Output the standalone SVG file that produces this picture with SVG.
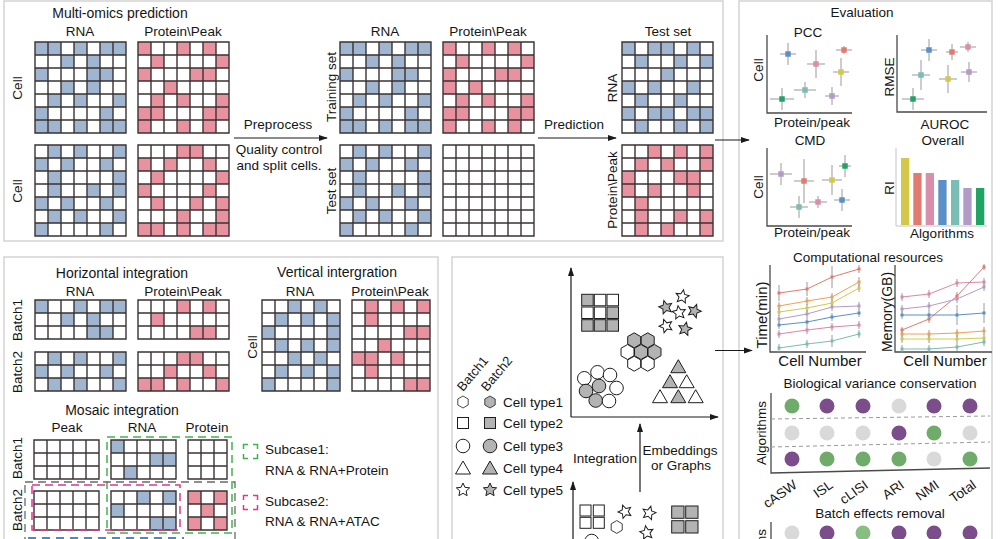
<svg xmlns="http://www.w3.org/2000/svg" width="1000" height="539" viewBox="0 0 1000 539">
<defs>
<style>
text{font-family:"Liberation Sans",Arial,Helvetica,sans-serif;fill:#151515;font-size:13.5px}
.t{font-size:14px}
.c{text-anchor:middle}
.e{text-anchor:end}
.panel{fill:none;stroke:#d3d3d3;stroke-width:1.5}
.bl{fill:#9fb5d0}
.pk{fill:#e8929f}
.ax{fill:none;stroke:#4a4a4a;stroke-width:1.3}
.lax{fill:none;stroke:#c4c4c4;stroke-width:1}
.eb{fill:none;stroke:#9a9a9a;stroke-width:1}
.sh{fill:#fff;stroke:#1e1e1e;stroke-width:1}
.g{fill:#b3b3b3}
.arr{fill:none;stroke:#1a1a1a;stroke-width:1.2}
.dot{fill:none;stroke-linecap:square}
.ln{fill:none;stroke-width:1}
.gr{fill:#6fac6a}.pu{fill:#7b4e8b}.gy{fill:#d9d9d9}
</style>
<marker id="ah" viewBox="0 0 10 10" refX="9" refY="5" markerWidth="9" markerHeight="9" orient="auto" markerUnits="userSpaceOnUse"><path d="M0 1.6L10 5L0 8.4z" fill="#1a1a1a"/></marker>
<path id="g77" fill="none" stroke="#3a3232" stroke-width="1.4" d="M0 0H91V91H0Z M13 0V91M26 0V91M39 0V91M52 0V91M65 0V91M78 0V91M0 13H91M0 26H91M0 39H91M0 52H91M0 65H91M0 78H91"/>
<path id="g73" fill="none" stroke="#3a3232" stroke-width="1.4" d="M0 0H91V39H0Z M13 0V39M26 0V39M39 0V39M52 0V39M65 0V39M78 0V39M0 13H91M0 26H91"/>
<path id="g67" fill="none" stroke="#3a3232" stroke-width="1.4" d="M0 0H78V91H0Z M13 0V91M26 0V91M39 0V91M52 0V91M65 0V91M0 13H78M0 26H78M0 39H78M0 52H78M0 65H78M0 78H78"/>
<path id="g53" fill="none" stroke="#3a3232" stroke-width="1.4" d="M0 0H65V39H0Z M13 0V39M26 0V39M39 0V39M52 0V39M0 13H65M0 26H65"/>
<path id="g33" fill="none" stroke="#3a3232" stroke-width="1.4" d="M0 0H39V39H0Z M13 0V39M26 0V39M0 13H39M0 26H39"/>
<path id="pT1R" class="bl" d="M0 0h26v13h-26zM39 0h13v13h-13zM65 0h26v13h-26zM26 13h13v13h-13zM52 13h13v13h-13zM0 26h13v13h-13zM52 26h26v13h-26zM26 39h13v13h-13zM52 39h13v13h-13zM13 52h13v13h-13zM39 52h13v13h-13zM78 52h13v13h-13zM0 65h13v13h-13zM65 65h13v13h-13zM0 78h26v13h-26zM39 78h13v13h-13zM65 78h26v13h-26z"/>
<path id="pT1P" class="pk" d="M0 0h13v13h-13zM39 0h13v13h-13zM65 0h13v13h-13zM13 13h13v13h-13zM78 13h13v13h-13zM0 26h13v13h-13zM52 26h26v13h-26zM26 39h13v13h-13zM13 52h13v13h-13zM39 52h13v13h-13zM78 52h13v13h-13zM0 65h26v13h-26zM65 65h26v13h-26zM0 78h13v13h-13zM39 78h13v13h-13zM65 78h13v13h-13z"/>
<path id="pT2R" class="bl" d="M13 0h13v13h-13zM39 0h13v13h-13zM78 0h13v13h-13zM0 13h13v13h-13zM26 13h13v13h-13zM65 13h13v13h-13zM13 26h13v13h-13zM78 26h13v13h-13zM13 39h13v13h-13zM52 39h13v13h-13zM78 39h13v13h-13zM0 52h13v13h-13zM26 52h13v13h-13zM65 52h13v13h-13zM13 65h13v13h-13zM39 65h13v13h-13zM78 65h13v13h-13zM0 78h13v13h-13zM65 78h13v13h-13z"/>
<polygon id="hex" points="0,-7.5 6.5,-3.75 6.5,3.75 0,7.5 -6.5,3.75 -6.5,-3.75"/>
<polygon id="star" points="0,-7 1.94,-2.67 6.66,-2.16 3.14,1.02 4.11,5.66 0,3.3 -4.11,5.66 -3.14,1.02 -6.66,-2.16 -1.94,-2.67"/>
<polygon id="tri" points="0,-7 7.5,6 -7.5,6"/>
<circle id="cir" r="6.8"/>
<rect id="sq" x="-5.5" y="-5.5" width="11" height="11"/>
</defs>
<rect width="1000" height="539" fill="#fff"/>

<g id="panels">
<rect class="panel" x="4" y="1" width="719" height="240"/>
<rect class="panel" x="4" y="257" width="434" height="290"/>
<rect class="panel" x="452" y="257" width="271" height="290"/>
<rect class="panel" x="739" y="1" width="253" height="546"/>
</g>

<g id="multiomics">
<text class="t c" x="120" y="18">Multi-omics prediction</text>
<text class="c" x="80" y="36">RNA</text>
<text class="c" x="183" y="36">Protein\Peak</text>
<text class="c" transform="translate(22,88) rotate(-90)">Cell</text>
<text class="c" transform="translate(22,191) rotate(-90)">Cell</text>
<g id="mo-rna1" transform="translate(35,42)"><use href="#pT1R"/><use href="#g77"/></g>
<g id="mo-prot1" transform="translate(138,42)"><use href="#pT1P"/><use href="#g77"/></g>
<g id="mo-rna2" transform="translate(35,145)"><use href="#pT2R"/><use href="#g77"/></g>
<g id="mo-prot2" transform="translate(138,145)"><path class="pk" d="M39 0h26v13h-26zM0 13h13v13h-13zM26 13h13v13h-13zM65 13h13v13h-13zM13 26h13v13h-13zM78 26h13v13h-13zM0 39h13v13h-13zM65 39h13v13h-13zM13 52h13v13h-13zM52 52h13v13h-13zM78 52h13v13h-13zM39 65h13v13h-13zM78 65h13v13h-13zM0 78h26v13h-26zM39 78h13v13h-13zM65 78h26v13h-26z"/><use href="#g77"/></g>
</g>

<g id="split">
<text class="c" x="385" y="36">RNA</text>
<text class="c" x="488" y="36">Protein\Peak</text>
<text class="c" transform="translate(336,87) rotate(-90)">Training set</text>
<text class="c" transform="translate(336,191) rotate(-90)">Test set</text>
<text class="c" x="278" y="129">Preprocess</text>
<text class="c" x="279" y="154">Quality control</text>
<text class="c" x="279" y="170">and split cells.</text>
<text class="c" x="574" y="129">Prediction</text>
<g id="train-rna" transform="translate(340,42)"><use href="#pT1R"/><use href="#g77"/></g>
<g id="train-prot" transform="translate(443,42)"><path class="pk" d="M0 0h13v13h-13zM39 0h13v13h-13zM65 0h13v13h-13zM13 13h13v13h-13zM78 13h13v13h-13zM0 26h13v13h-13zM52 26h26v13h-26zM0 39h13v13h-13zM26 39h13v13h-13zM13 52h13v13h-13zM39 52h13v13h-13zM78 52h13v13h-13zM0 65h26v13h-26zM65 65h26v13h-26zM0 78h13v13h-13zM39 78h13v13h-13zM65 78h13v13h-13z"/><use href="#g77"/></g>
<g id="test-rna" transform="translate(340,145)"><use href="#pT2R"/><use href="#g77"/></g>
<g id="test-prot" transform="translate(443,145)"><use href="#g77"/></g>
</g>

<g id="testset">
<text class="c" x="668" y="36">Test set</text>
<text class="c" transform="translate(617,88) rotate(-90)">RNA</text>
<text class="c" transform="translate(617,190) rotate(-90)">Protein\Peak</text>
<g id="pred-rna" transform="translate(622,42)"><path class="bl" d="M0 0h13v13h-13zM26 0h26v13h-26zM65 0h13v13h-13zM13 13h13v13h-13zM52 13h13v13h-13zM78 13h13v13h-13zM39 26h13v13h-13zM0 39h13v13h-13zM26 39h13v13h-13zM65 39h13v13h-13zM13 52h13v13h-13zM52 52h13v13h-13zM0 65h13v13h-13zM26 65h26v13h-26zM65 65h26v13h-26zM13 78h13v13h-13zM52 78h13v13h-13zM78 78h13v13h-13z"/><use href="#g77"/></g>
<g id="pred-prot" transform="translate(622,145)"><path class="pk" d="M26 0h13v13h-13zM52 0h13v13h-13zM78 0h13v13h-13zM13 13h13v13h-13zM39 13h13v13h-13zM78 13h13v13h-13zM0 26h13v13h-13zM52 26h26v13h-26zM0 39h13v13h-13zM26 39h13v13h-13zM65 39h13v13h-13zM13 52h13v13h-13zM13 65h13v13h-13zM52 65h13v13h-13zM78 65h13v13h-13zM13 78h13v13h-13zM39 78h13v13h-13zM78 78h13v13h-13z"/><use href="#g77"/></g>
</g>

<g id="horizontal">
<text class="t c" x="122" y="278">Horizontal integration</text>
<text class="c" x="80" y="296">RNA</text>
<text class="c" x="183" y="296">Protein\Peak</text>
<text class="c" transform="translate(22,320) rotate(-90)">Batch1</text>
<text class="c" transform="translate(22,372) rotate(-90)">Batch2</text>
<g transform="translate(35,300)"><path class="bl" d="M0 0h13v13h-13zM39 0h13v13h-13zM65 0h26v13h-26zM26 13h13v13h-13zM52 13h13v13h-13zM52 26h26v13h-26z"/><use href="#g73"/></g>
<g transform="translate(138,300)"><path class="pk" d="M39 0h13v13h-13zM65 0h13v13h-13zM13 13h13v13h-13zM52 26h26v13h-26z"/><use href="#g73"/></g>
<g transform="translate(35,352)"><path class="bl" d="M13 0h13v13h-13zM39 0h13v13h-13zM78 0h13v13h-13zM0 13h13v13h-13zM26 13h13v13h-13zM65 13h13v13h-13zM13 26h13v13h-13zM39 26h13v13h-13zM78 26h13v13h-13z"/><use href="#g73"/></g>
<g transform="translate(138,352)"><path class="pk" d="M39 0h26v13h-26zM26 13h13v13h-13zM65 13h13v13h-13zM0 26h26v13h-26zM39 26h13v13h-13zM78 26h13v13h-13z"/><use href="#g73"/></g>
</g>

<g id="vertical">
<text class="t c" x="337" y="277">Vertical intergration</text>
<text class="c" x="300" y="296">RNA</text>
<text class="c" x="390" y="296">Protein\Peak</text>
<text class="c" transform="translate(257,347) rotate(-90)">Cell</text>
<g transform="translate(262,300)"><path class="bl" d="M26 0h13v13h-13zM52 0h13v13h-13zM13 13h13v13h-13zM39 13h13v13h-13zM65 13h13v13h-13zM0 26h13v13h-13zM65 26h13v13h-13zM13 39h13v13h-13zM39 39h13v13h-13zM65 39h13v13h-13zM26 52h13v13h-13zM52 52h13v13h-13zM13 65h13v13h-13zM39 65h13v13h-13zM65 65h13v13h-13zM0 78h13v13h-13zM65 78h13v13h-13z"/><use href="#g67"/></g>
<g transform="translate(352,300)"><path class="pk" d="M13 0h13v13h-13zM39 0h13v13h-13zM65 0h13v13h-13zM13 13h13v13h-13zM52 26h26v13h-26zM26 39h13v13h-13zM0 52h26v13h-26zM39 52h13v13h-13zM13 65h13v13h-13zM52 78h26v13h-26z"/><use href="#g67"/></g>
</g>

<g id="mosaic">
<text class="t c" x="122" y="415">Mosaic integration</text>
<text class="c" x="67" y="432">Peak</text>
<text class="c" x="142" y="432">RNA</text>
<text class="c" x="207" y="432">Protein</text>
<text class="c" transform="translate(22,458) rotate(-90)">Batch1</text>
<text class="c" transform="translate(22,510) rotate(-90)">Batch2</text>
<g transform="translate(34,440)"><use href="#g53"/></g>
<g transform="translate(111,440)"><path class="bl" d="M0 0h13v13h-13zM39 13h26v13h-26zM13 26h13v13h-13z"/><use href="#g53"/></g>
<g transform="translate(188,440)"><use href="#g33"/></g>
<g transform="translate(34,491)"><use href="#g53"/></g>
<g transform="translate(111,491)"><path class="bl" d="M26 0h13v13h-13zM52 0h13v13h-13zM0 13h13v13h-13zM39 26h26v13h-26z"/><use href="#g53"/></g>
<g transform="translate(188,491)"><path class="pk" d="M0 0h13v13h-13zM26 0h13v13h-13zM13 13h13v13h-13zM0 26h13v13h-13zM26 26h13v13h-13z"/><use href="#g33"/></g>
<rect x="107" y="437" width="125" height="96" fill="none" stroke="#3db54a" stroke-width="1.5" stroke-dasharray="8 5"/>
<rect x="25" y="482" width="210" height="62" fill="none" stroke="#6a6a6a" stroke-width="1.3" stroke-dasharray="8 5"/>
<rect x="32" y="485" width="148" height="45" fill="none" stroke="#e4348c" stroke-width="1.5" stroke-dasharray="8 5"/>
<rect x="28" y="538" width="155" height="40" fill="none" stroke="#3a8fd6" stroke-width="2" stroke-dasharray="8 6"/>
<rect x="243.5" y="444.5" width="14" height="14" fill="none" stroke="#3db54a" stroke-width="1.5" stroke-dasharray="9 5" stroke-dashoffset="4.5"/>
<rect x="243.5" y="495.5" width="14" height="14" fill="none" stroke="#e4348c" stroke-width="1.5" stroke-dasharray="9 5" stroke-dashoffset="4.5"/>
<text x="265" y="454">Subcase1:</text>
<text x="265" y="475">RNA &amp; RNA+Protein</text>
<text x="265" y="506">Subcase2:</text>
<text x="265" y="526">RNA &amp; RNA+ATAC</text>
</g>

<g id="embedding">
<text transform="translate(463,392) rotate(-50)" style="font-size:13px">Batch1</text>
<text transform="translate(487,392) rotate(-50)" style="font-size:13px">Batch2</text>
<use href="#hex" class="sh" transform="translate(463,402) scale(0.8)"/><use href="#hex" class="sh g" transform="translate(490,402) scale(0.8)"/>
<use href="#sq" class="sh" transform="translate(463,423)"/><use href="#sq" class="sh g" transform="translate(490,423)"/>
<use href="#cir" class="sh" transform="translate(463,446)"/><use href="#cir" class="sh g" transform="translate(490,446)"/>
<use href="#tri" class="sh" transform="translate(463,468)"/><use href="#tri" class="sh g" transform="translate(490,468)"/>
<use href="#star" class="sh" transform="translate(463,490)"/><use href="#star" class="sh g" transform="translate(490,490)"/>
<text x="503" y="407">Cell type1</text>
<text x="503" y="428">Cell type2</text>
<text x="503" y="450.5">Cell type3</text>
<text x="503" y="472.5">Cell type4</text>
<text x="503" y="494.5">Cell type5</text>
<text class="c" x="605" y="463">Integration</text>
<text class="c" x="680" y="455">Embeddings</text>
<text class="c" x="681" y="470">or Graphs</text>
<g id="cluster-squares">
<rect class="sh g" x="581.7" y="294.3" width="11.5" height="11.5"/><rect class="sh" x="594.3" y="294.3" width="11.5" height="11.5"/><rect class="sh" x="607" y="294.3" width="11.5" height="11.5"/>
<rect class="sh" x="581.7" y="307" width="11.5" height="11.5"/><rect class="sh" x="594.3" y="307" width="11.5" height="11.5"/><rect class="sh g" x="607" y="307" width="11.5" height="11.5"/>
<rect class="sh g" x="581.7" y="319.7" width="11.5" height="11.5"/><rect class="sh g" x="594.3" y="319.7" width="11.5" height="11.5"/><rect class="sh g" x="607" y="319.7" width="11.5" height="11.5"/>
</g>
<g id="cluster-stars">
<use href="#star" class="sh g" transform="translate(665.7,307.3) rotate(-15)"/>
<use href="#star" class="sh" transform="translate(682.3,296.7) rotate(10)"/>
<use href="#star" class="sh" transform="translate(679,312.7) rotate(-8)"/>
<use href="#star" class="sh g" transform="translate(694.3,311) rotate(20)"/>
<use href="#star" class="sh" transform="translate(666,326) rotate(-20)"/>
<use href="#star" class="sh g" transform="translate(685,329) rotate(12)"/>
</g>
<g id="cluster-hex">
<use href="#hex" class="sh g" transform="translate(634.2,340.3)"/><use href="#hex" class="sh g" transform="translate(647.7,340.3)"/>
<use href="#hex" class="sh" transform="translate(627.5,352)"/><use href="#hex" class="sh g" transform="translate(641,352)"/><use href="#hex" class="sh g" transform="translate(654.5,352)"/>
<use href="#hex" class="sh" transform="translate(634.2,363.7)"/><use href="#hex" class="sh" transform="translate(647.7,363.7)"/>
</g>
<g id="cluster-circles">
<use href="#cir" class="sh" transform="translate(584.3,378.3)"/>
<use href="#cir" class="sh" transform="translate(597.5,372.3)"/>
<use href="#cir" class="sh" transform="translate(610,375)"/>
<use href="#cir" class="sh" transform="translate(616.5,388)"/>
<use href="#cir" class="sh g" transform="translate(599,386)"/>
<use href="#cir" class="sh g" transform="translate(586,391)"/>
<use href="#cir" class="sh g" transform="translate(595.7,400.5)"/>
<use href="#cir" class="sh" transform="translate(609,401)"/>
</g>
<g id="cluster-tri">
<use href="#tri" class="sh g" transform="translate(678.3,366.7)"/>
<use href="#tri" class="sh g" transform="translate(670,381.7)"/><use href="#tri" class="sh" transform="translate(686.7,381.7)"/>
<use href="#tri" class="sh" transform="translate(660,396.7)"/><use href="#tri" class="sh g" transform="translate(678.3,396.7)"/><use href="#tri" class="sh" transform="translate(695.7,396.7)"/>
</g>
<g id="raw-cells">
<rect class="sh" x="580" y="505" width="11" height="11"/><rect class="sh" x="593.3" y="505" width="11" height="11"/>
<rect class="sh" x="580" y="517.3" width="11" height="11"/><rect class="sh" x="593.3" y="517.3" width="11" height="11"/>
<rect class="sh g" x="671.7" y="506" width="12.3" height="12.3"/><rect class="sh g" x="685.7" y="506" width="12.3" height="12.3"/>
<rect class="sh g" x="671.7" y="520.7" width="12.3" height="12.3"/><rect class="sh g" x="685.7" y="520.7" width="12.3" height="12.3"/>
<use href="#star" class="sh" transform="translate(625,511.7) rotate(-20)"/>
<use href="#star" class="sh" transform="translate(649,513) rotate(15)"/>
<use href="#star" class="sh" transform="translate(646.7,532.7) rotate(-10)"/>
<use href="#hex" class="sh" transform="translate(616.7,527) scale(0.85)"/>
<use href="#cir" class="sh" transform="translate(591.7,541)"/>
</g>
</g>

<g id="evaluation">
<text class="c" x="862" y="17">Evaluation</text>
<g id="pcc">
<text class="c" x="808" y="37">PCC</text>
<text class="c" transform="translate(763,70) rotate(-90)">Cell</text>
<text class="c" x="812" y="127">Protein/peak</text>
<path class="ax" d="M767 35V113H852"/>
<path class="eb" d="M780 54H796M788 43V65M836 50H852M844 46V54M807 64H825M816 50V78M833 72H849M841 58V86M794 90H816M805 82V98M825 96H839M832 87V105M770 99H794M782 88V110"/>
<path class="dot" stroke-width="5.5" stroke="#5b8fc7" d="M788 54h0"/>
<path class="dot" stroke-width="5.5" stroke="#e07b72" d="M844 50h0"/>
<path class="dot" stroke-width="5.5" stroke="#d98fab" d="M816 64h0"/>
<path class="dot" stroke-width="5.5" stroke="#d4c84a" d="M841 72h0"/>
<path class="dot" stroke-width="5.5" stroke="#79bdb4" d="M805 90h0"/>
<path class="dot" stroke-width="5.5" stroke="#b39bc8" d="M832 96h0"/>
<path class="dot" stroke-width="5.5" stroke="#21a366" d="M782 99h0"/>
</g>
<g id="rmse">
<text class="c" transform="translate(894,77) rotate(-90)">RMSE</text>
<text class="c" x="945" y="129">AUROC</text>
<path class="ax" d="M897 35V112H987"/>
<path class="eb" d="M921 50H937M929 39V61M946 52H958M952 44V60M960 47H976M968 42V52M912 75H930M921 60V90M961 72H977M969 62V82M939 79H957M948 65V93M902 99H924M913 88V110"/>
<path class="dot" stroke-width="5.5" stroke="#5b8fc7" d="M929 50h0"/>
<path class="dot" stroke-width="5.5" stroke="#e07b72" d="M952 52h0"/>
<path class="dot" stroke-width="5.5" stroke="#d98fab" d="M968 47h0"/>
<path class="dot" stroke-width="5.5" stroke="#79bdb4" d="M921 75h0"/>
<path class="dot" stroke-width="5.5" stroke="#b39bc8" d="M969 72h0"/>
<path class="dot" stroke-width="5.5" stroke="#d4c84a" d="M948 79h0"/>
<path class="dot" stroke-width="5.5" stroke="#21a366" d="M913 99h0"/>
</g>
<g id="cmd">
<text class="c" x="810" y="145">CMD</text>
<text class="c" transform="translate(763,187) rotate(-90)">Cell</text>
<text class="c" x="812" y="237">Protein/peak</text>
<path class="ax" d="M767 148V226H852"/>
<path class="eb" d="M770 174H792M781 163V185M794 181H814M804 159V203M822 180H842M832 165V195M839 166H851M845 155V177M790 207H808M799 196V218M809 202H827M818 196V208M834 200H850M842 189V211"/>
<path class="dot" stroke-width="5.5" stroke="#b39bc8" d="M781 174h0"/>
<path class="dot" stroke-width="5.5" stroke="#e07b72" d="M804 181h0"/>
<path class="dot" stroke-width="5.5" stroke="#d4c84a" d="M832 180h0"/>
<path class="dot" stroke-width="5.5" stroke="#21a366" d="M845 166h0"/>
<path class="dot" stroke-width="5.5" stroke="#79bdb4" d="M799 207h0"/>
<path class="dot" stroke-width="5.5" stroke="#d98fab" d="M818 202h0"/>
<path class="dot" stroke-width="5.5" stroke="#5b8fc7" d="M842 200h0"/>
</g>
<g id="overall">
<text class="c" x="943" y="145">Overall</text>
<text class="c" transform="translate(894,188) rotate(-90)">RI</text>
<text class="c" x="942" y="238">Algorithms</text>
<path class="lax" d="M896 148V226H987"/>
<rect x="901" y="158" width="8.3" height="67" fill="#d4c84a"/>
<rect x="913.3" y="173" width="8.3" height="52" fill="#e07b72"/>
<rect x="925.7" y="173" width="8.3" height="52" fill="#d98fab"/>
<rect x="938.3" y="180" width="8.3" height="45" fill="#5b8fc7"/>
<rect x="951" y="180" width="8.3" height="45" fill="#79bdb4"/>
<rect x="963.3" y="188" width="8.3" height="37" fill="#b39bc8"/>
<rect x="976" y="188" width="8.3" height="37" fill="#21a366"/>
</g>
</g>

<g id="resources">
<text class="c" x="868" y="262">Computational resources</text>
<text class="c" transform="translate(767,315) rotate(-90)" style="font-size:15px">Time(min)</text>
<text class="c" x="820" y="366" style="font-size:15px">Cell Number</text>
<text class="c" transform="translate(892,312) rotate(-90)" style="font-size:14px">Memory(GB)</text>
<text class="c" x="945" y="366" style="font-size:15px">Cell Number</text>
<path class="ax" d="M770 265V352H866M895 265V352H992"/>
<path class="eb" d="M779 285v16M807 282v14M832 266v22M859 265v8M779 302v8M807 297v8M832 293v8M859 277v10M779 308v8M807 304v8M832 299v8M859 284v8M779 315v8M807 310v8M832 303v8M859 302v8M779 321v8M807 318v8M832 313v8M859 309v8M779 330v8M807 326v8M832 323v8M859 321v8M779 344v8M807 340v8M832 335v12M859 330v8"/>
<path class="eb" d="M902 327v6M929 315v8M957 292v8M984 264v6M902 293v8M929 290v8M957 279v8M984 278v8M902 305v8M929 302v8M957 295v8M984 283v8M902 311v8M929 310v10M957 305v20M984 303v20M902 330v8M929 330v8M957 329v8M984 327v8M902 335v8M929 335v8M957 335v8M984 334v8M902 345v8M929 345v8M957 343v8M984 338v8"/>
<polyline class="ln" stroke="#e07b72" points="779,293 807,289 832,277 859,269"/>
<polyline class="ln" stroke="#f0a050" points="779,306 807,301 832,297 859,282"/>
<polyline class="ln" stroke="#d4c84a" points="779,312 807,308 832,303 859,288"/>
<polyline class="ln" stroke="#b39bc8" points="779,319 807,314 832,307 859,306"/>
<polyline class="ln" stroke="#5b8fc7" points="779,325 807,322 832,317 859,313"/>
<polyline class="ln" stroke="#de86a5" points="779,334 807,330 832,327 859,325"/>
<polyline class="ln" stroke="#79bdb4" points="779,348 807,344 832,341 859,334"/>
<path class="dot" stroke-width="3" stroke="#e07b72" d="M779 293h0M807 289h0M832 277h0M859 269h0M902 330h0M929 319h0M957 296h0M984 267h0"/>
<path class="dot" stroke-width="3" stroke="#f0a050" d="M779 306h0M807 301h0M832 297h0M859 282h0M902 334h0M929 334h0M957 333h0M984 331h0"/>
<path class="dot" stroke-width="3" stroke="#d4c84a" d="M779 312h0M807 308h0M832 303h0M859 288h0M902 339h0M929 339h0M957 339h0M984 338h0"/>
<path class="dot" stroke-width="3" stroke="#b39bc8" d="M779 319h0M807 314h0M832 307h0M859 306h0M902 309h0M929 306h0M957 299h0M984 287h0"/>
<path class="dot" stroke-width="3" stroke="#5b8fc7" d="M779 325h0M807 322h0M832 317h0M859 313h0M902 315h0M929 315h0M957 315h0M984 313h0"/>
<path class="dot" stroke-width="3" stroke="#de86a5" d="M779 334h0M807 330h0M832 327h0M859 325h0M902 297h0M929 294h0M957 283h0M984 282h0"/>
<path class="dot" stroke-width="3" stroke="#79bdb4" d="M779 348h0M807 344h0M832 341h0M859 334h0M902 349h0M929 349h0M957 347h0M984 342h0"/>
<polyline class="ln" stroke="#e07b72" points="902,330 929,319 957,296 984,267"/>
<polyline class="ln" stroke="#de86a5" points="902,297 929,294 957,283 984,282"/>
<polyline class="ln" stroke="#b39bc8" points="902,309 929,306 957,299 984,287"/>
<polyline class="ln" stroke="#5b8fc7" points="902,315 929,315 957,315 984,313"/>
<polyline class="ln" stroke="#f0a050" points="902,334 929,334 957,333 984,331"/>
<polyline class="ln" stroke="#d4c84a" points="902,339 929,339 957,339 984,338"/>
<polyline class="ln" stroke="#79bdb4" points="902,349 929,349 957,347 984,342"/>
</g>

<g id="bio-variance">
<text class="c" x="880" y="388">Biological variance conservation</text>
<text class="c" transform="translate(766,433) rotate(-90)">Algorithms</text>
<path class="ax" d="M771 393V473L990 468"/>
<path d="M771 419L990 416M771 447L990 442" fill="none" stroke="#9a9a9a" stroke-width="1" stroke-dasharray="4 3"/>
<circle class="gr" cx="792" cy="406" r="7.5"/><circle class="pu" cx="827" cy="406" r="7.5"/><circle class="pu" cx="863" cy="406" r="7.5"/><circle class="gy" cx="899" cy="406" r="7.5"/><circle class="pu" cx="934" cy="406" r="7.5"/><circle class="pu" cx="970" cy="406" r="7.5"/>
<circle class="gy" cx="792" cy="433" r="7.5"/><circle class="gy" cx="827" cy="433" r="7.5"/><circle class="gy" cx="863" cy="433" r="7.5"/><circle class="pu" cx="899" cy="433" r="7.5"/><circle class="gr" cx="934" cy="433" r="7.5"/><circle class="gy" cx="970" cy="433" r="7.5"/>
<circle class="pu" cx="792" cy="459" r="7.5"/><circle class="gr" cx="827" cy="459" r="7.5"/><circle class="gr" cx="863" cy="459" r="7.5"/><circle class="gr" cx="899" cy="459" r="7.5"/><circle class="gy" cx="934" cy="459" r="7.5"/><circle class="gr" cx="970" cy="459" r="7.5"/>
<text class="e" transform="translate(798,487) rotate(-35)">cASW</text>
<text class="e" transform="translate(834,487) rotate(-35)">ISL</text>
<text class="e" transform="translate(869,487) rotate(-35)">cLISI</text>
<text class="e" transform="translate(905,487) rotate(-35)">ARI</text>
<text class="e" transform="translate(940,487) rotate(-35)">NMI</text>
<text class="e" transform="translate(977,487) rotate(-35)">Total</text>
</g>

<g id="batch-removal">
<text class="c" x="880" y="518">Batch effects removal</text>
<text class="e" transform="translate(766,529) rotate(-90)">Algorithms</text>
<path class="ax" d="M771 522V545"/>
<circle class="gy" cx="792" cy="533" r="7.5"/><circle class="pu" cx="827" cy="533" r="7.5"/><circle fill="#86bf80" cx="863" cy="533" r="7.5"/><circle class="pu" cx="899" cy="533" r="7.5"/><circle class="pu" cx="934" cy="533" r="7.5"/><circle class="pu" cx="970" cy="533" r="7.5"/>
</g>

<g id="connectors">
<path class="arr" marker-end="url(#ah)" d="M234 138H327"/>
<path class="arr" marker-end="url(#ah)" d="M538 138H616"/>
<path class="arr" marker-end="url(#ah)" d="M715 140H749"/>
<path class="arr" marker-end="url(#ah)" d="M715 350.5H752"/>
<path class="arr" marker-end="url(#ah)" d="M571 417V268"/>
<path class="arr" marker-end="url(#ah)" d="M571 417H718"/>
<path class="arr" marker-end="url(#ah)" d="M573 545V482"/>
<path class="arr" marker-end="url(#ah)" d="M640 492V424"/>
</g>
</svg>
